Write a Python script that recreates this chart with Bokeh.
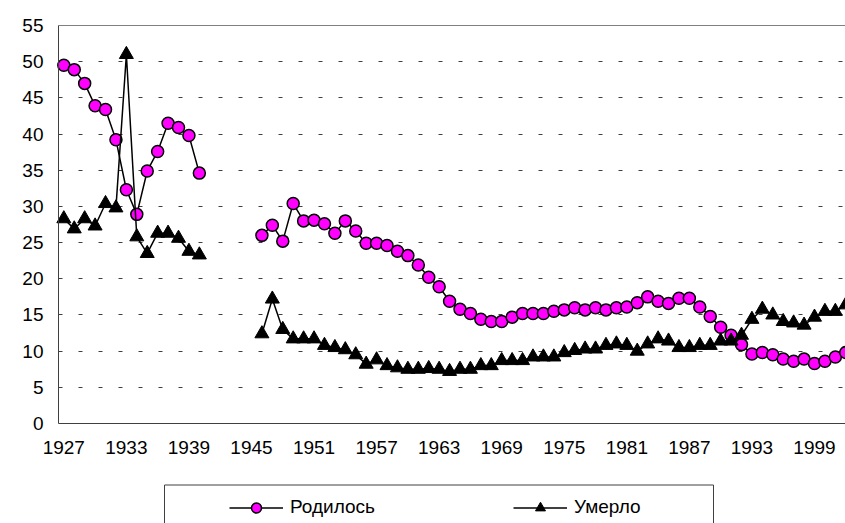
import numpy as np
from bokeh.plotting import figure
from bokeh.models import (FixedTicker, Legend, LegendItem, Range1d, ColumnDataSource,
                          BoxAnnotation, Grid)
from bokeh.embed import file_html
from bokeh.resources import INLINE

nan = float("nan")

years = list(range(1927, 2003))

births = [49.5, 48.9, 47.0, 43.9, 43.4, 39.2, 32.3, 28.9, 34.9, 37.6, 41.5, 40.9, 39.8, 34.6,
          nan, nan, nan, nan, nan,
          26.0, 27.4, 25.2, 30.4, 28.0, 28.1, 27.6, 26.3, 28.0, 26.6,
          24.9, 24.9, 24.6, 23.8, 23.2, 21.9, 20.2, 18.9, 16.9, 15.8,
          15.2, 14.4, 14.1, 14.1, 14.7, 15.2, 15.2, 15.2, 15.5, 15.7,
          16.0, 15.7, 16.0, 15.7, 16.0, 16.1, 16.7, 17.5, 16.9, 16.6,
          17.3, 17.3, 16.1, 14.8, 13.3, 12.2, 10.9, 9.6, 9.8, 9.5,
          8.9, 8.6, 8.9, 8.3, 8.6, 9.2, 9.8]

deaths = [28.3, 26.9, 28.3, 27.3, 30.4, 29.8, 51.0, 25.8, 23.5, 26.3, 26.3, 25.6, 23.8, 23.3,
          nan, nan, nan, nan, nan,
          12.4, 17.2, 13.0, 11.7, 11.7, 11.7, 10.8, 10.5, 10.2, 9.5,
          8.2, 8.8, 8.0, 7.7, 7.5, 7.5, 7.6, 7.5, 7.2, 7.5,
          7.5, 8.0, 8.0, 8.7, 8.7, 8.7, 9.2, 9.2, 9.2, 9.8,
          10.1, 10.3, 10.3, 10.8, 11.0, 10.8, 10.0, 11.0, 11.7, 11.4,
          10.5, 10.5, 10.8, 10.8, 11.4, 11.4, 12.2, 14.4, 15.8, 15.0,
          14.1, 13.9, 13.6, 14.7, 15.5, 15.5, 16.4]

x_ticks = list(range(1927, 2000, 6))
y_ticks = list(range(0, 56, 5))
series_names = ["Родилось", "Умерло"]

src = ColumnDataSource(data=dict(x=np.array(years, dtype=float),
                                 b=np.array(births, dtype=float),
                                 d=np.array(deaths, dtype=float)))

FONT = "Liberation Sans"
FS = "19px"
AXIS_COLOR = "#404040"

# layout constants (pixels)
W, H = 845, 523
LEFT, TOP = 58, 25          # plot-area left / top edge
AXIS_Y = 423                # pixel row of the value 0
PX_YEAR = 10.426
X0 = 1926.49                # year at the plot-area left edge
PX_UNIT = (AXIS_Y - TOP) / 55.0
Y_BOTTOM = -(H - AXIS_Y) / PX_UNIT
Y_TOP = 55 + TOP / PX_UNIT
X_START = X0 - LEFT / PX_YEAR
X_END = X0 + (W - LEFT) / PX_YEAR


def px_to_year(px):
    return X0 + (px - LEFT) / PX_YEAR


def py_to_val(py):
    return -(py - AXIS_Y) / PX_UNIT


p = figure(width=W, height=H, output_backend="svg", toolbar_location=None,
           x_range=Range1d(X_START, X_END), y_range=Range1d(Y_BOTTOM, Y_TOP),
           min_border_left=0, min_border_right=0, min_border_top=0, min_border_bottom=0)
p.outline_line_color = None
p.background_fill_color = "white"

p.xgrid.visible = False
p.ygrid.ticker = FixedTicker(ticks=y_ticks[1:-1])
p.ygrid.cross_bounds = (X0, X_END)
p.ygrid.grid_line_color = AXIS_COLOR
p.ygrid.grid_line_dash = "4 16"
p.ygrid.grid_line_width = 1

# solid upper edge of the plot area
p.add_layout(Grid(dimension=1, ticker=FixedTicker(ticks=[y_ticks[-1]]), cross_bounds=(X0, X_END),
                  grid_line_color="#808080", grid_line_width=1))

for ax in (p.xaxis, p.yaxis):
    ax.major_tick_out = 0
    ax.major_tick_in = 0
    ax.minor_tick_out = 0
    ax.minor_tick_in = 0
    ax.axis_line_color = AXIS_COLOR
    ax.axis_line_width = 1
    ax.major_label_text_font = FONT
    ax.major_label_text_font_size = FS
    ax.major_label_text_color = "black"

p.xaxis.ticker = FixedTicker(ticks=x_ticks)
p.xaxis.fixed_location = 0
p.xaxis.bounds = (X0, X_END)
p.xaxis.major_label_standoff = 17
p.yaxis.ticker = FixedTicker(ticks=y_ticks)
p.yaxis.fixed_location = X0
p.yaxis.bounds = (0, 55)
p.yaxis.major_label_standoff = 15

l1 = p.line("x", "b", source=src, line_color="black", line_width=1.5)
s1 = p.scatter("x", "b", source=src, marker="circle", size=12,
               fill_color="#FF00FF", line_color="black", line_width=1.5)
l2 = p.line("x", "d", source=src, line_color="black", line_width=1.5)
s2 = p.scatter("x", "d", source=src, marker="triangle", size=14,
               fill_color="black", line_color="black", line_width=1)

# legend frame (its lower edge lies below the picture, as in the original)
p.add_layout(BoxAnnotation(left=px_to_year(164), right=px_to_year(713),
                           top=py_to_val(484.5), bottom=Y_BOTTOM - 5,
                           fill_color=None, fill_alpha=0,
                           line_color=AXIS_COLOR, line_width=1, line_alpha=1))

legend = Legend(items=[LegendItem(label=series_names[0], renderers=[l1, s1]),
                       LegendItem(label=series_names[1], renderers=[l2, s2])],
                location=(229, H - 519.5), orientation="horizontal",
                glyph_width=54, glyph_height=25, label_standoff=7, label_width=93,
                spacing=130, padding=0, margin=0,
                border_line_color=None, background_fill_alpha=0,
                label_text_font=FONT, label_text_font_size=FS, label_text_color="black")
p.add_layout(legend)

open("out.html", "w").write(file_html(p, INLINE))
